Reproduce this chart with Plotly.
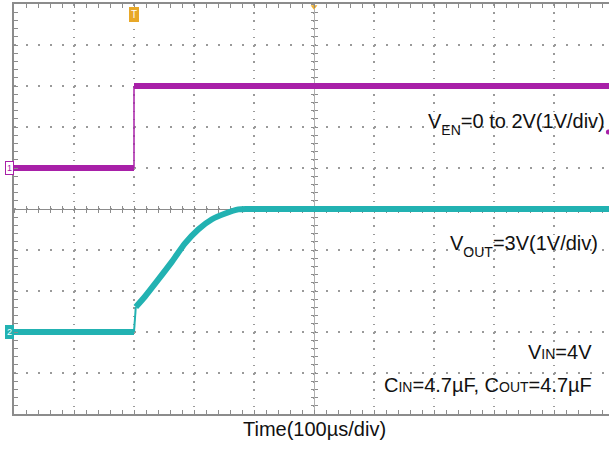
import plotly.graph_objects as go

# ---- data (time in µs, voltages in V) ----
en_t = [0, 200, 200, 1000]
en_v = [0, 0, 2, 2]
out_t = [0, 200, 203, 218, 240, 263, 285, 307, 330, 352, 374, 390, 1000]
out_v = [0, 0, 0.61, 0.86, 1.27, 1.71, 2.16, 2.50, 2.75, 2.89, 2.99, 3.0, 3.0]

# scope channel offsets (divisions, 1 V/div)
EN_POS = 1
OUT_POS = -3

PURPLE = "#A820A8"
CYAN = "#22B2B2"
GRID = "#9a9a9a"
FRAME = "#8c8c8c"

W, H = 609, 453
ML, MT, MB = 14, 4, 39
PW = W - ML
XMAX = 1000 * PW / 600.0


def px2x(px):
    return (px - ML) / PW


def py2y(py):
    return (H - MB - py) / (H - MB - MT)


fig = go.Figure()

en_y = [v + EN_POS for v in en_v]
out_y = [v + OUT_POS for v in out_v]

# thick level segments, thin edges
fig.add_trace(go.Scatter(x=en_t[:2] + [None] + en_t[2:], y=en_y[:2] + [None] + en_y[2:],
                         mode="lines", line=dict(color=PURPLE, width=6), hoverinfo="skip"))
fig.add_trace(go.Scatter(x=en_t[1:3], y=en_y[1:3], mode="lines",
                         line=dict(color=PURPLE, width=1.5), hoverinfo="skip"))
fig.add_trace(go.Scatter(x=out_t[:2] + [None] + out_t[2:], y=out_y[:2] + [None] + out_y[2:],
                         mode="lines", line=dict(color=CYAN, width=6, shape="spline", smoothing=0.6),
                         hoverinfo="skip"))
fig.add_trace(go.Scatter(x=out_t[1:3], y=out_y[1:3], mode="lines",
                         line=dict(color=CYAN, width=2), hoverinfo="skip"))

# indicator marks
fig.add_trace(go.Scatter(x=[500], y=[4.93], mode="markers", cliponaxis=False,
                         marker=dict(symbol="triangle-down", size=6, color="#F0B030"), hoverinfo="skip"))
fig.add_trace(go.Scatter(x=[XMAX - 1], y=[1.88], mode="markers", cliponaxis=False,
                         marker=dict(symbol="circle", size=5, color=PURPLE), hoverinfo="skip"))

# dummy traces for centre axes
for xa, ya in [("x2", "y"), ("x3", "y"), ("x", "y2"), ("x", "y3")]:
    fig.add_trace(go.Scatter(x=[None], y=[None], xaxis=xa, yaxis=ya, showlegend=False, hoverinfo="skip"))

common_x = dict(range=[0, XMAX], showticklabels=False, zeroline=False, fixedrange=True)
common_y = dict(range=[-5, 5], showticklabels=False, zeroline=False, fixedrange=True)

fig.update_layout(
    width=W, height=H,
    margin=dict(l=ML, r=0, t=MT, b=MB),
    paper_bgcolor="white", plot_bgcolor="white",
    showlegend=False,
    font=dict(family="Liberation Sans, Arial, sans-serif", color="#111111"),
    xaxis=dict(**common_x, dtick=100, tick0=0, showgrid=True, gridcolor=GRID, gridwidth=1.5,
               griddash="1.5px,6.7px", showline=True, linecolor=FRAME, linewidth=2, mirror="ticks",
               ticks="inside", ticklen=4, tickcolor=FRAME,
               minor=dict(dtick=20, tick0=0, ticks="inside", ticklen=4, tickcolor=FRAME, showgrid=False)),
    yaxis=dict(**common_y, dtick=1, tick0=0, showgrid=True, gridcolor=GRID, gridwidth=1.5,
               griddash="1.5px,10.5px", showline=True, linecolor=FRAME, linewidth=2, mirror=False,
               ticks="inside", ticklen=4, tickcolor=FRAME,
               minor=dict(dtick=0.2, tick0=0, ticks="inside", ticklen=4, tickcolor=FRAME, showgrid=False)),
    xaxis2=dict(**common_x, overlaying="x", anchor="free", position=0.5, showgrid=False,
                showline=True, linecolor=FRAME, linewidth=1, ticks="inside", ticklen=3, tickcolor=FRAME,
                dtick=20, tick0=0, layer="below traces"),
    xaxis3=dict(**common_x, overlaying="x", anchor="free", position=0.5, showgrid=False,
                showline=False, ticks="outside", ticklen=3, tickcolor=FRAME,
                dtick=20, tick0=0, layer="below traces"),
    yaxis2=dict(**common_y, overlaying="y", anchor="free", position=500 / XMAX, showgrid=False,
                showline=True, linecolor="#b0b0b0", linewidth=1, ticks="inside", ticklen=3, tickcolor=FRAME,
                dtick=0.2, tick0=0, layer="below traces"),
    yaxis3=dict(**common_y, overlaying="y", anchor="free", position=500 / XMAX, showgrid=False,
                showline=False, ticks="outside", ticklen=3, tickcolor=FRAME,
                dtick=0.2, tick0=0, layer="below traces"),
)

TXT = dict(size=20, color="#111111", family="Liberation Sans, Arial, sans-serif")
SUB = "<sub><sub><span style='font-size:14px'>{}</span></sub></sub>"
SMALL = "<span style='font-size:14px'>{}</span>"
ann = [
    dict(text="V" + SUB.format("EN") + "=0 to 2V(1V/div)", x=px2x(607), y=py2y(124), xanchor="right", yanchor="middle"),
    dict(text="V" + SUB.format("OUT") + "=3V(1V/div)", x=px2x(600), y=py2y(246), xanchor="right", yanchor="middle"),
    dict(text="V" + SMALL.format("IN") + "=4V", x=px2x(594), y=py2y(352), xanchor="right", yanchor="middle"),
    dict(text="C" + SMALL.format("IN") + "=4.7µF, C" + SMALL.format("OUT") + "=4.7µF",
         x=px2x(594), y=py2y(385), xanchor="right", yanchor="middle"),
    dict(text="Time(100µs/div)", x=px2x(314), y=py2y(429), xanchor="center", yanchor="middle"),
]
for a in ann:
    fig.add_annotation(xref="paper", yref="paper", showarrow=False, font=TXT, **a)

# channel / trigger flags
fig.add_annotation(xref="paper", yref="y", x=0, y=EN_POS, xanchor="right", yanchor="middle",
                   text="1", showarrow=False, font=dict(size=9, color=PURPLE),
                   bgcolor="white", bordercolor=PURPLE, borderwidth=1, borderpad=1)
fig.add_annotation(xref="paper", yref="y", x=0, y=OUT_POS, xanchor="right", yanchor="middle",
                   text="2", showarrow=False, font=dict(size=9, color="white"),
                   bgcolor=CYAN, bordercolor=CYAN, borderwidth=1, borderpad=1)
fig.add_annotation(xref="x", yref="paper", x=200, y=1, xanchor="center", yanchor="top", yshift=-3,
                   text="T", showarrow=False, font=dict(size=10, color="white"),
                   bgcolor="#E8A828", bordercolor="#E8A828", borderwidth=1, borderpad=1)

fig.write_html("out.html")
